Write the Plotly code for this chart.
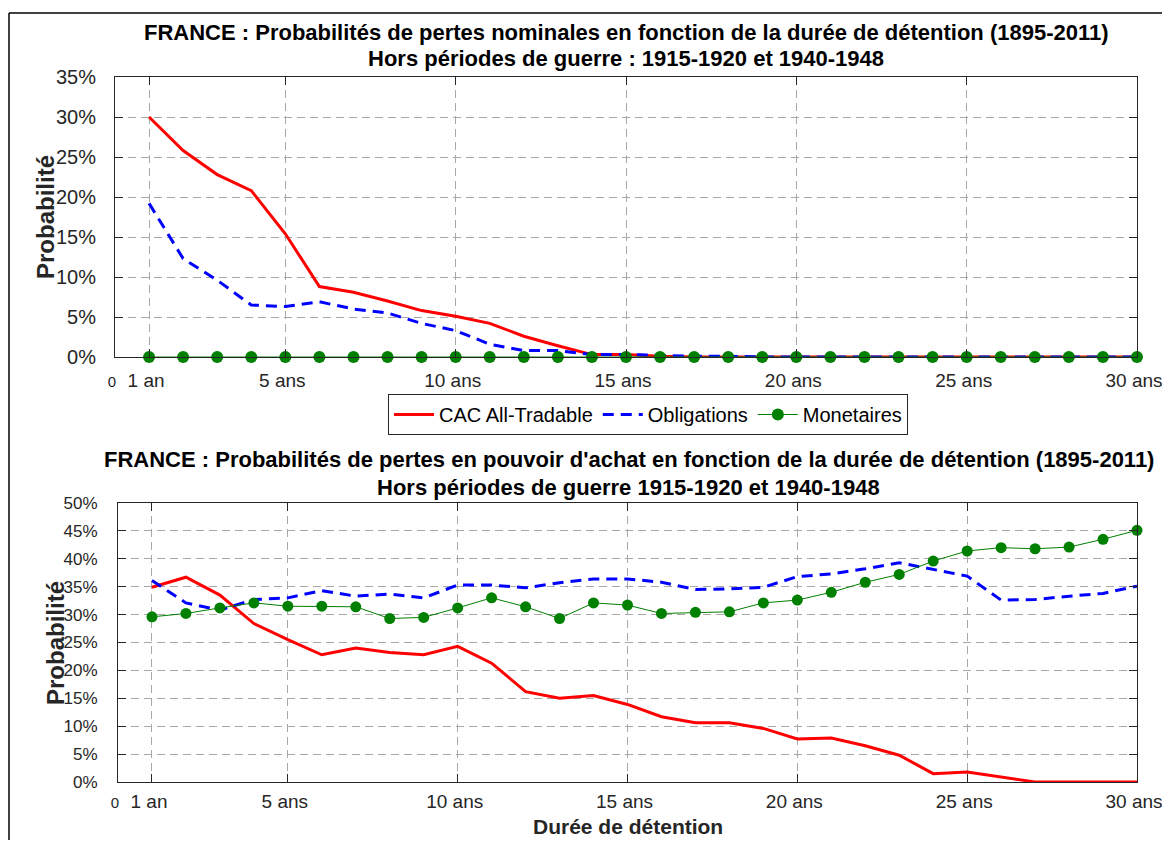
#!/usr/bin/env python3

import plotly.graph_objects as go

# holding period in years
years = list(range(1, 31))

# nominal losses (%)
nominal_cac = [30.0, 25.8, 22.8, 20.8, 15.4, 8.8, 8.1, 7.0, 5.8, 5.1,
               4.2, 2.6, 1.4, 0.3, 0.3, 0.1, 0.0, 0.0, 0.0, 0.0,
               0.0, 0.0, 0.0, 0.0, 0.0, 0.0, 0.0, 0.0, 0.0, 0.0]
nominal_oblig = [19.2, 12.3, 9.6, 6.5, 6.3, 6.9, 6.0, 5.5, 4.2, 3.3,
                 1.6, 0.8, 0.8, 0.3, 0.3, 0.2, 0.1, 0.1, 0.0, 0.0,
                 0.0, 0.0, 0.0, 0.0, 0.0, 0.0, 0.0, 0.0, 0.0, 0.0]
nominal_mon = [0.0, 0.0, 0.0, 0.0, 0.0, 0.0, 0.0, 0.0, 0.0, 0.0,
               0.0, 0.0, 0.0, 0.0, 0.0, 0.0, 0.0, 0.0, 0.0, 0.0,
               0.0, 0.0, 0.0, 0.0, 0.0, 0.0, 0.0, 0.0, 0.0, 0.0]

# purchasing power losses (%)
real_cac = [34.9, 36.7, 33.5, 28.4, 25.5, 22.8, 24.0, 23.2, 22.8, 24.3,
            21.3, 16.2, 15.0, 15.5, 13.9, 11.7, 10.6, 10.6, 9.6, 7.7,
            7.9, 6.5, 4.8, 1.5, 1.8, 0.9, 0.0, 0.0, 0.0, 0.0]
real_oblig = [36.1, 32.1, 30.8, 32.7, 33.0, 34.3, 33.3, 33.7, 33.0, 35.3,
              35.3, 34.8, 35.7, 36.4, 36.4, 35.8, 34.5, 34.6, 34.9, 36.8,
              37.3, 38.2, 39.3, 38.1, 36.9, 32.6, 32.7, 33.3, 33.8, 35.1]
real_mon = [29.6, 30.2, 31.2, 32.1, 31.5, 31.5, 31.4, 29.3, 29.5, 31.2,
            33.0, 31.4, 29.3, 32.1, 31.7, 30.2, 30.4, 30.5, 32.1, 32.6,
            34.0, 35.8, 37.2, 39.6, 41.4, 42.0, 41.8, 42.1, 43.5, 45.1]

series_names = ['CAC All-Tradable', 'Obligations', 'Monetaires']
x_tickvals = [0, 1, 5, 10, 15, 20, 25, 30]
x_ticktext = ["<span style='font-size:15px'>0</span>", '1 an', '5 ans', '10 ans',
              '15 ans', '20 ans', '25 ans', '30 ans']

# page is 1170x848 with the default 8px body margin around the plot div
MARGIN = 8
W, H = 1170 - 2 * MARGIN, 848 - 2 * MARGIN
FONT = 'Liberation Sans, Arial, sans-serif'
TXT = '#262626'


def px_x(p):
    # screen pixel -> paper coordinate
    return (p - MARGIN) / W


def px_y(p):
    return 1 - (p - MARGIN) / H


fig = go.Figure()

for (cac, oblig, mon, xa, ya, msize, first) in [
    (nominal_cac, nominal_oblig, nominal_mon, 'x', 'y', 12, True),
    (real_cac, real_oblig, real_mon, 'x2', 'y2', 11, False),
]:
    fig.add_trace(go.Scatter(
        x=years, y=cac, name=series_names[0], mode='lines',
        line=dict(color='#ff0000', width=3),
        xaxis=xa, yaxis=ya, showlegend=first,
    ))
    fig.add_trace(go.Scatter(
        x=years, y=oblig, name=series_names[1], mode='lines',
        line=dict(color='#0000ff', width=3, dash='11px,7px'),
        xaxis=xa, yaxis=ya, showlegend=first,
    ))
    fig.add_trace(go.Scatter(
        x=years, y=mon, name=series_names[2], mode='lines+markers',
        line=dict(color='#008000', width=1),
        marker=dict(color='#008000', size=msize),
        xaxis=xa, yaxis=ya, showlegend=first, cliponaxis=False,
    ))

axis_common = dict(
    showline=True, linecolor=TXT, linewidth=1, mirror='ticks',
    ticks='inside', ticklen=8, tickcolor=TXT, automargin=False,
    showgrid=True, gridcolor='#a8a8a8', griddash='8px,5px', gridwidth=1,
    zeroline=False, tickfont=dict(family=FONT, size=20, color=TXT),
)
x_common = dict(axis_common, range=[0, 30], tickvals=x_tickvals,
                ticktext=x_ticktext, ticklabelstandoff=6,
                ticklabeloverflow='allow', ticklabelshift=-3,
                tickfont=dict(family=FONT, size=19, color=TXT))

fig.update_layout(
    width=W, height=H,
    margin=dict(l=0, r=0, t=0, b=0, pad=0, autoexpand=False),
    paper_bgcolor='white', plot_bgcolor='white',
    font=dict(family=FONT, color=TXT),
    xaxis=dict(x_common, domain=[px_x(115), px_x(1137)], anchor='y'),
    yaxis=dict(axis_common, domain=[px_y(357), px_y(77)], range=[0, 35],
               dtick=5, ticksuffix='%', anchor='x', ticklabelstandoff=14),
    xaxis2=dict(x_common, domain=[px_x(118), px_x(1137)], anchor='y2',
                ticklabelstandoff=2),
    yaxis2=dict(axis_common, domain=[px_y(782), px_y(503)], range=[0, 50],
                dtick=5, ticksuffix='%', anchor='x2', ticklabelstandoff=16,
                tickfont=dict(family=FONT, size=17, color=TXT)),
    legend=dict(
        orientation='h', x=px_x(648), xanchor='center',
        y=px_y(394), yanchor='top',
        bordercolor=TXT, borderwidth=1, bgcolor='white',
        font=dict(family=FONT, size=20, color='black'),
        itemwidth=40, tracegroupgap=0,
    ),
    showlegend=True,
)

titles = [
    ("FRANCE : Probabilités de pertes nominales en fonction de la durée de détention (1895-2011)", 626, 33),
    ("Hors périodes de guerre : 1915-1920 et 1940-1948", 626, 58),
    ("FRANCE : Probabilités de pertes en pouvoir d'achat en fonction de la durée de détention (1895-2011)", 629, 459),
    ("Hors périodes de guerre 1915-1920 et 1940-1948", 628, 487),
]
for text, cx, cy in titles:
    fig.add_annotation(
        text='<b>%s</b>' % text, xref='paper', yref='paper',
        x=px_x(cx), y=px_y(cy), xanchor='center', yanchor='middle',
        showarrow=False, font=dict(family=FONT, size=22, color='black'),
    )

# axis titles
for cx, cy in [(45, 217), (55, 643)]:
    fig.add_annotation(
        text='<b>Probabilité</b>', xref='paper', yref='paper',
        x=px_x(cx), y=px_y(cy), xanchor='center', yanchor='middle',
        textangle=-90, showarrow=False,
        font=dict(family=FONT, size=24, color=TXT),
    )
# sits on the bottom edge of the plot div so it is not cut off
fig.add_annotation(
    text='<b>Durée de détention</b>', xref='paper', yref='paper',
    x=px_x(628), y=0, xanchor='center', yanchor='bottom',
    showarrow=False, font=dict(family=FONT, size=21, color=TXT),
)

# outer frame (left and top edges)
fig.add_shape(type='line', xref='paper', yref='paper',
              x0=px_x(9), x1=px_x(9), y0=0, y1=px_y(13),
              line=dict(color='black', width=1.5))
fig.add_shape(type='line', xref='paper', yref='paper',
              x0=px_x(9), x1=1, y0=px_y(13), y1=px_y(13),
              line=dict(color='black', width=1.5))

fig.write_html("out.html")
